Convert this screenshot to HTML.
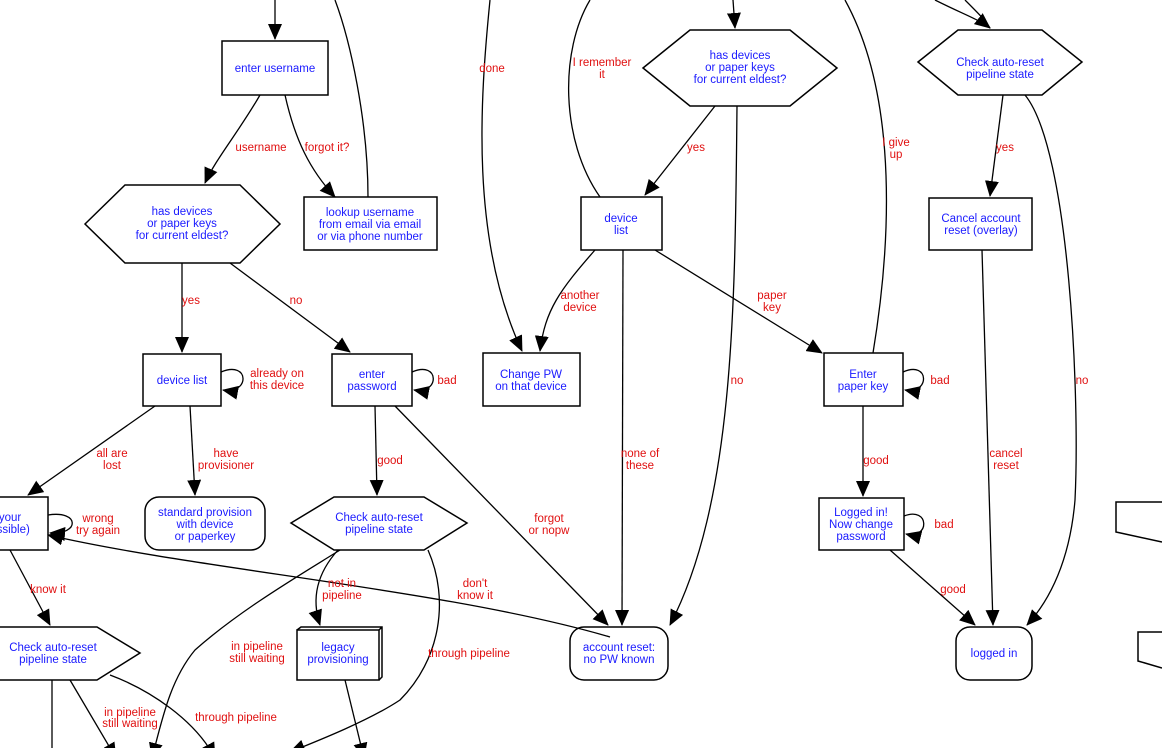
<!DOCTYPE html>
<html><head><meta charset="utf-8"><style>
html,body{margin:0;padding:0;background:#fff;width:1162px;height:748px;overflow:hidden}
svg text{font-family:"Liberation Sans",Arial,sans-serif;font-size:11.5px}
.n{fill:#1a1aff;text-anchor:middle}
.l{fill:#e01010;text-anchor:middle}
</style></head><body>
<svg width="1162" height="748" viewBox="0 0 1162 748" xmlns="http://www.w3.org/2000/svg">
<defs>
<marker id="b" markerWidth="16" markerHeight="14" refX="15" refY="7" orient="auto" markerUnits="userSpaceOnUse"><path d="M0,0 L16,7 L0,14 z" fill="#000"/></marker></defs>
<g fill="none" stroke="#000" stroke-width="1.5">
<rect x="222" y="41" width="106" height="54"/>
<polygon points="85,224 125,185 240,185 280,224 240,263 125,263"/>
<rect x="304" y="197" width="133" height="53"/>
<rect x="143" y="354" width="78" height="52"/>
<rect x="332" y="354" width="80" height="52"/>
<rect x="483" y="353" width="97" height="53"/>
<rect x="581" y="197" width="81" height="53"/>
<polygon points="643,68 690,30 790,30 837,68 790,106 690,106"/>
<rect x="824" y="353" width="79" height="53"/>
<polygon points="918,62 958,30 1042,30 1082,62 1042,95 958,95"/>
<rect x="929" y="198" width="103" height="52"/>
<rect x="819" y="498" width="85" height="52"/>
<rect x="956" y="627" width="76" height="53" rx="14"/>
<rect x="570" y="627" width="98" height="53" rx="14"/>
<rect x="145" y="497" width="120" height="53" rx="14"/>
<polygon points="291,523 334,497 424,497 467,523 424,550 334,550"/>
<rect x="297" y="630" width="82" height="50"/>
<path d="M297,630 L301,627 L382,627 L382,677 L379,680 M379,630 L382,627"/>
<rect x="-5" y="497" width="53" height="53"/>
<polygon points="-5,627 97,627 140,653 97,680 -5,680"/>
<path d="M1162,502 L1116,502 L1116,532 L1162,542"/>
<path d="M1162,632 L1138,632 L1138,661 L1162,668"/>
</g>
<g fill="none" stroke="#000" stroke-width="1.3" marker-end="url(#b)">
<path d="M275,0 L275,39"/>
<path d="M368,197 C368,120 350,40 335,0" marker-end="none"/>
<path d="M260,95 C240,130 215,160 205,183"/>
<path d="M285,95 C295,140 310,170 335,197"/>
<path d="M182,263 L182,352"/>
<path d="M230,263 L350,352"/>
<path d="M190,406 L195,495"/>
<path d="M155,406 L28,495"/>
<path d="M221,372 C250,360 250,395 223,390"/>
<path d="M412,372 C440,360 440,395 414,390"/>
<path d="M375,406 L377,495"/>
<path d="M395,406 L608,625"/>
<path d="M48,515 C80,510 80,535 50,533"/>
<path d="M10,550 L50,625"/>
<path d="M340,550 C300,575 240,610 195,650 C170,680 162,720 152,758"/>
<path d="M338,550 C320,570 310,595 320,625"/>
<path d="M428,550 C450,600 440,660 400,700 C370,720 320,740 290,752"/>
<path d="M610,637 C450,590 200,570 48,535"/>
<path d="M345,680 L364,758"/>
<path d="M52,680 L52,758" marker-end="none"/>
<path d="M70,680 L116,758"/>
<path d="M110,675 C150,690 195,720 215,758"/>
<path d="M490,0 C480,100 470,240 522,351"/>
<path d="M600,197 C560,140 560,50 590,0" marker-end="none"/>
<path d="M733,0 L735,28"/>
<path d="M715,106 L645,195"/>
<path d="M737,106 C735,300 735,500 670,625"/>
<path d="M595,250 C560,290 545,310 540,351"/>
<path d="M623,250 L622,625"/>
<path d="M655,250 L822,353"/>
<path d="M873,353 C890,250 900,100 845,0" marker-end="none"/>
<path d="M903,372 C930,360 930,395 905,390"/>
<path d="M863,406 L863,496"/>
<path d="M904,516 C930,506 930,540 906,534"/>
<path d="M890,550 L975,625"/>
<path d="M935,0 C965,15 980,20 990,28"/>
<path d="M965,0 C980,15 985,20 990,28" marker-end="none"/>
<path d="M1003,95 L990,196"/>
<path d="M1025,95 C1070,150 1080,400 1075,500 C1070,560 1050,600 1027,625"/>
<path d="M982,250 L993,625"/>
</g>
<text class="n" x="275" y="72">enter username</text>
<text class="n" x="182" y="215">has devices</text><text class="n" x="182" y="227">or paper keys</text><text class="n" x="182" y="239">for current eldest?</text>
<text class="n" x="370" y="216">lookup username</text><text class="n" x="370" y="228">from email via email</text><text class="n" x="370" y="240">or via phone number</text>
<text class="n" x="182" y="384">device list</text>
<text class="n" x="372" y="378">enter</text><text class="n" x="372" y="390">password</text>
<text class="n" x="531" y="378">Change PW</text><text class="n" x="531" y="390">on that device</text>
<text class="n" x="621" y="222">device</text><text class="n" x="621" y="234">list</text>
<text class="n" x="740" y="59">has devices</text><text class="n" x="740" y="71">or paper keys</text><text class="n" x="740" y="83">for current eldest?</text>
<text class="n" x="863" y="378">Enter</text><text class="n" x="863" y="390">paper key</text>
<text class="n" x="1000" y="66">Check auto-reset</text><text class="n" x="1000" y="78">pipeline state</text>
<text class="n" x="981" y="222">Cancel account</text><text class="n" x="981" y="234">reset (overlay)</text>
<text class="n" x="861" y="516">Logged in!</text><text class="n" x="861" y="528">Now change</text><text class="n" x="861" y="540">password</text>
<text class="n" x="994" y="657">logged in</text>
<text class="n" x="619" y="651">account reset:</text><text class="n" x="619" y="663">no PW known</text>
<text class="n" x="205" y="516">standard provision</text><text class="n" x="205" y="528">with device</text><text class="n" x="205" y="540">or paperkey</text>
<text class="n" x="379" y="521">Check auto-reset</text><text class="n" x="379" y="533">pipeline state</text>
<text class="n" x="338" y="651">legacy</text><text class="n" x="338" y="663">provisioning</text>
<text class="n" x="10" y="521">your</text><text class="n" x="10" y="533">ossible)</text>
<text class="n" x="53" y="651">Check auto-reset</text><text class="n" x="53" y="663">pipeline state</text>
<text class="l" x="261" y="151">username</text>
<text class="l" x="327" y="151">forgot it?</text>
<text class="l" x="191" y="304">yes</text>
<text class="l" x="296" y="304">no</text>
<text class="l" x="277" y="377">already on</text><text class="l" x="277" y="389">this device</text>
<text class="l" x="447" y="384">bad</text>
<text class="l" x="112" y="457">all are</text><text class="l" x="112" y="469">lost</text>
<text class="l" x="226" y="457">have</text><text class="l" x="226" y="469">provisioner</text>
<text class="l" x="390" y="464">good</text>
<text class="l" x="98" y="522">wrong</text><text class="l" x="98" y="534">try again</text>
<text class="l" x="48" y="593">know it</text>
<text class="l" x="342" y="587">not in</text><text class="l" x="342" y="599">pipeline</text>
<text class="l" x="257" y="650">in pipeline</text><text class="l" x="257" y="662">still waiting</text>
<text class="l" x="469" y="657">through pipeline</text>
<text class="l" x="130" y="716">in pipeline</text><text class="l" x="130" y="727">still waiting</text>
<text class="l" x="236" y="721">through pipeline</text>
<text class="l" x="549" y="522">forgot</text><text class="l" x="549" y="534">or nopw</text>
<text class="l" x="475" y="587">don't</text><text class="l" x="475" y="599">know it</text>
<text class="l" x="492" y="72">done</text>
<text class="l" x="602" y="66">I remember</text><text class="l" x="602" y="78">it</text>
<text class="l" x="696" y="151">yes</text>
<text class="l" x="580" y="299">another</text><text class="l" x="580" y="311">device</text>
<text class="l" x="640" y="457">none of</text><text class="l" x="640" y="469">these</text>
<text class="l" x="737" y="384">no</text>
<text class="l" x="772" y="299">paper</text><text class="l" x="772" y="311">key</text>
<text class="l" x="896" y="146">I give</text><text class="l" x="896" y="158">up</text>
<text class="l" x="940" y="384">bad</text>
<text class="l" x="876" y="464">good</text>
<text class="l" x="944" y="528">bad</text>
<text class="l" x="953" y="593">good</text>
<text class="l" x="1005" y="151">yes</text>
<text class="l" x="1006" y="457">cancel</text><text class="l" x="1006" y="469">reset</text>
<text class="l" x="1082" y="384">no</text>
</svg>
</body></html>
